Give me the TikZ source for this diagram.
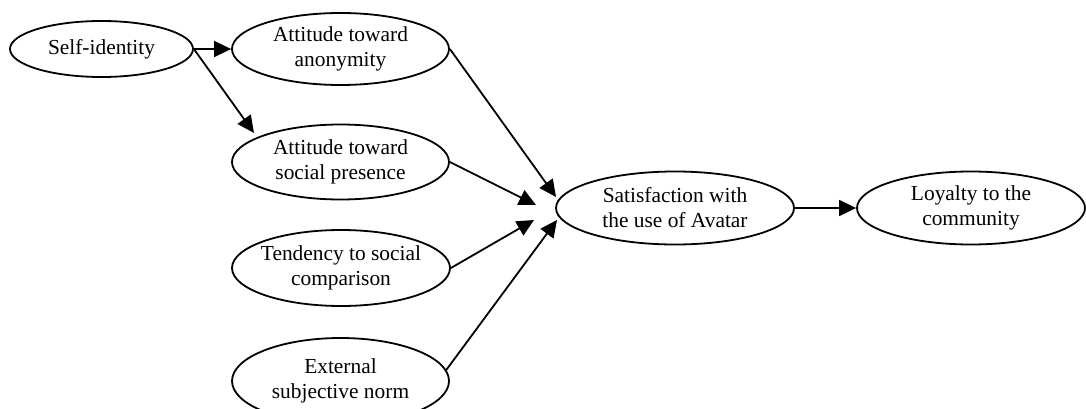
\documentclass[tikz,border=0pt]{standalone}
\usepackage{fontspec}
\setmainfont{Liberation Serif}
\usetikzlibrary{shapes.geometric,arrows.meta}
\begin{document}
\begin{tikzpicture}[x=1pt,y=-1pt,
  oval/.style={draw=black,line width=1.8pt,ellipse,inner sep=-20pt,align=center,
    font=\fontsize{21.4}{25}\selectfont},
  link/.style={draw=black,line width=1.8pt,-{Triangle[length=17pt,width=16pt]}}]
\useasboundingbox (0,0) rectangle (1086,409);
\node[oval,minimum width=183pt,minimum height=56pt] (self) at (101.5,49) {Self-identity};
\node[oval,minimum width=217pt,minimum height=72pt] (anon) at (340.5,49) {Attitude toward\\anonymity};
\node[oval,minimum width=217pt,minimum height=75pt] (social) at (340.5,162) {Attitude toward\\social presence};
\node[oval,minimum width=218pt,minimum height=76pt] (tend) at (341,268) {Tendency to social\\comparison};
\node[oval,minimum width=217pt,minimum height=86pt] (ext) at (340.5,381) {External\\subjective norm};
\node[oval,minimum width=238pt,minimum height=73pt] (sat) at (675,208) {Satisfaction with\\the use of Avatar};
\node[oval,minimum width=228pt,minimum height=73pt] (loy) at (971,208) {Loyalty to the\\community};
\coordinate (tsoc) at (254,133);
\coordinate (t1) at (556,197);
\coordinate (t2) at (536,205);
\coordinate (t3) at (534,220);
\coordinate (t4) at (557,220);
\draw[link] (self.east) -- (anon.west);
\draw[link] (self.east) -- (tsoc);
\draw[link] (anon.east) -- (t1);
\draw[link] (social.east) -- (t2);
\draw[link] (tend.east) -- (t3);
\draw[link] (ext.6) -- (t4);
\draw[link] (sat.east) -- (loy.west);
\end{tikzpicture}
\end{document}
